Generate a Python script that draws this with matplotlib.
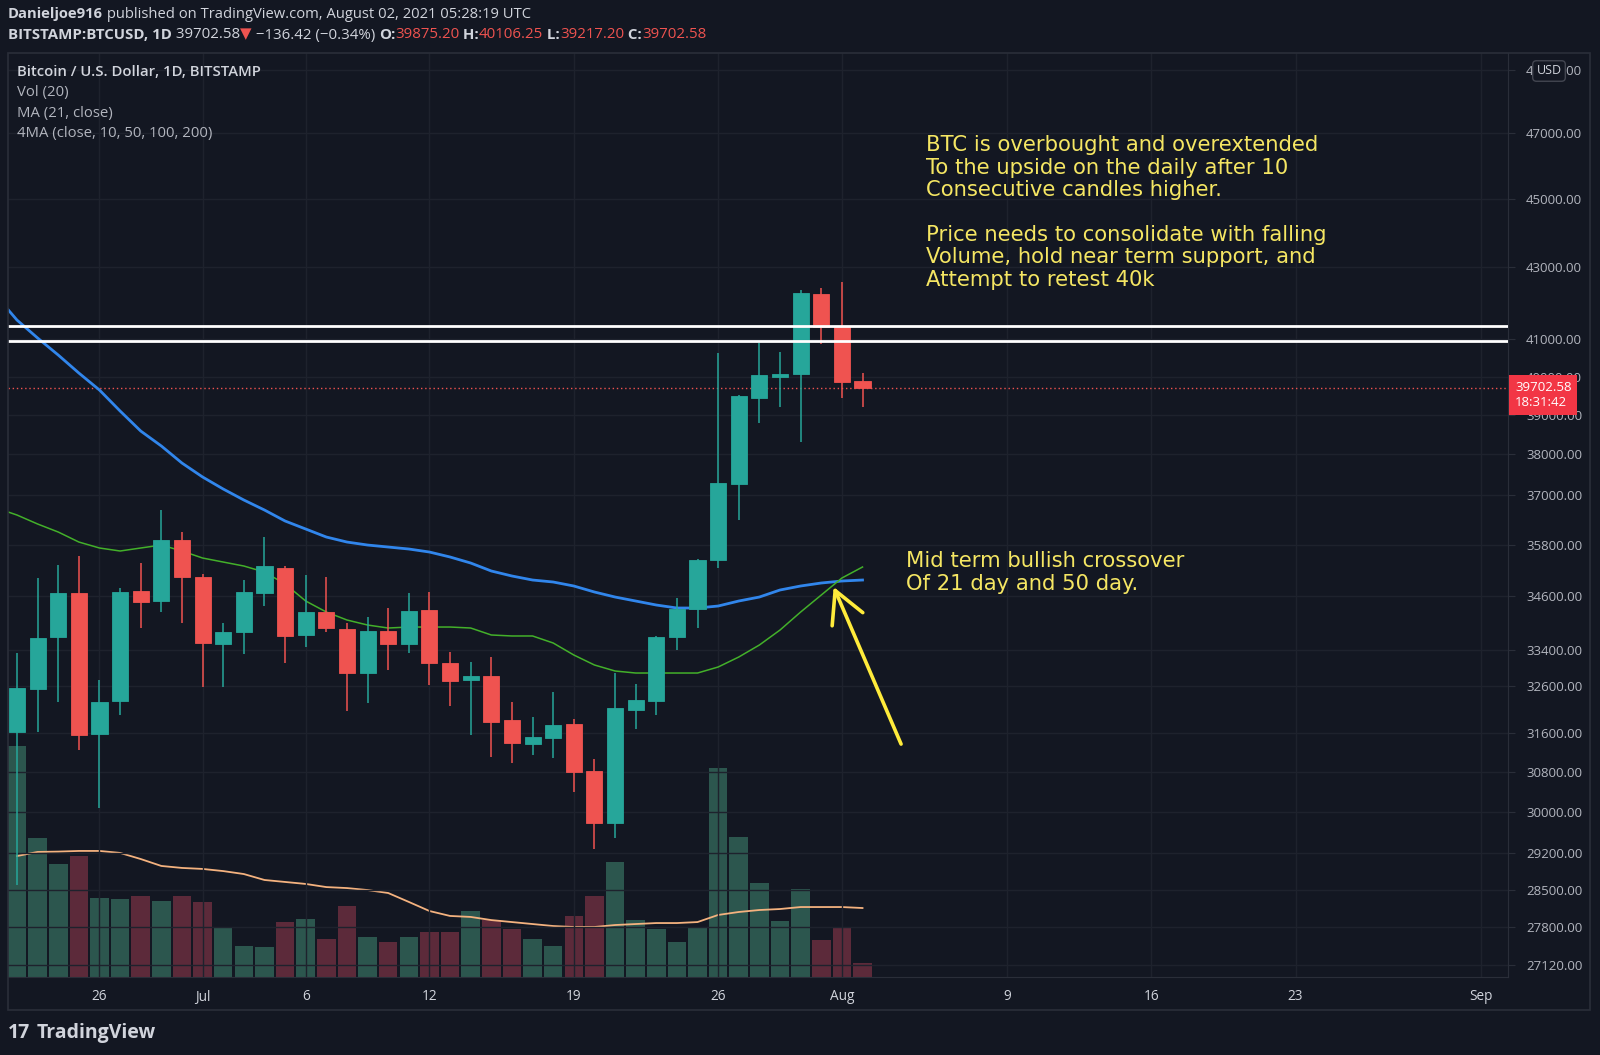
import matplotlib
matplotlib.use('Agg')
import matplotlib.pyplot as plt
import matplotlib.dates as mdates
from matplotlib.patches import Rectangle
from matplotlib.ticker import FixedLocator, FixedFormatter, FuncFormatter, NullLocator
import pandas as pd

# colours of the dark TradingView theme
BG = '#131722'
GRID = '#1e222d'
BORDER = '#2a2e39'
TXT = '#d1d4dc'
TXT2 = '#b2b5be'
UP = '#26a69a'
DN = '#ef5350'
VOL_UP = '#2c564e'
VOL_DN = '#5c2a3a'
YEL = '#f5e663'
FONT = ['Open Sans', 'DejaVu Sans']

# daily candles, BITSTAMP:BTCUSD
days = pd.date_range('2021-06-22', '2021-08-02', freq='D')
opens = [31628, 32540, 33678, 34672, 31585, 32283, 34718, 34489, 35906, 35041,
         33524, 33790, 34672, 35250, 33723, 34239, 33857, 32886, 33812, 33524,
         34285, 33104, 32734, 32821, 31880, 31378, 31503, 31794, 30823, 29782,
         32091, 32283, 33678, 34307, 35434, 37260, 39440, 39992, 40071, 42250,
         41368, 39875.20]
highs = [33324, 35018, 35320, 35529, 32734, 34790, 35367, 36624, 36100, 35100,
         33991, 34971, 35978, 35300, 35087, 35041, 34000, 34125, 34330, 34672,
         34695, 33346, 33126, 33235, 32261, 31943, 32475, 31900, 31065, 32886,
         32648, 33700, 34557, 35460, 40631, 39518, 40902, 40658, 42360, 42415,
         42577, 40106.25]
lows = [28587, 31628, 32261, 31254, 30079, 31985, 33879, 34239, 33991, 32583,
        32583, 33302, 34375, 33104, 33456, 33790, 32070, 32240, 32950, 33324,
        32626, 32176, 31565, 31110, 30986, 31150, 31089, 30400, 29275, 29488,
        31690, 31985, 33390, 33879, 35250, 36383, 38805, 39206, 38310, 40880,
        39440, 39217.20]
closes = [32561, 33656, 34672, 31565, 32261, 34695, 34466, 35906, 35041, 33545,
          33790, 34695, 35297, 33700, 34239, 33879, 32886, 33812, 33524, 34262,
          33104, 32712, 32821, 31837, 31399, 31524, 31773, 30803, 29782, 32133,
          32304, 33678, 34307, 35434, 37284, 39492, 40045, 40071, 42275, 41340,
          39870, 39702.58]
# volume, thousand BTC
volume = [14.0, 8.42, 6.85, 7.33, 4.79, 4.73, 4.91, 4.61, 4.91, 4.55,
          3.03, 1.88, 1.82, 3.33, 3.52, 2.30, 4.30, 2.42, 2.12, 2.42,
          2.73, 2.73, 4.00, 3.45, 2.91, 2.30, 1.88, 3.70, 4.91, 6.97,
          3.45, 2.91, 2.12, 3.03, 12.67, 8.48, 5.70, 3.39, 5.33, 2.24,
          3.03, 0.85]
vol_ma20 = [7.33, 7.58, 7.60, 7.64, 7.64, 7.52, 7.15, 6.73, 6.61, 6.55,
            6.42, 6.24, 5.88, 5.76, 5.64, 5.45, 5.39, 5.27, 5.09, 4.55,
            4.00, 3.70, 3.64, 3.45, 3.33, 3.21, 3.09, 3.03, 3.03, 3.15,
            3.21, 3.27, 3.27, 3.33, 3.76, 3.94, 4.06, 4.12, 4.24, 4.24,
            4.24, 4.18]

# moving averages, starting one day before the first visible candle
ma_days = pd.date_range('2021-06-21', '2021-08-02', freq='D')
ma21 = [36675, 36505, 36289, 36097, 35859, 35718, 35647, 35718, 35788, 35647,
        35482, 35388, 35295, 35155, 34878, 34488, 34238, 34058, 33945, 33878,
        33900, 33900, 33900, 33878, 33722, 33700, 33700, 33544, 33279, 33060,
        32929, 32885, 32885, 32885, 32885, 33016, 33235, 33500, 33833, 34238,
        34625, 35016, 35272]
ma50 = [42191, 41526, 41036, 40577, 40097, 39649, 39103, 38589, 38209, 37781,
        37434, 37138, 36869, 36626, 36361, 36169, 35978, 35859, 35788, 35741,
        35694, 35623, 35506, 35365, 35179, 35063, 34970, 34924, 34832, 34694,
        34579, 34488, 34397, 34329, 34329, 34374, 34488, 34579, 34740, 34832,
        34901, 34947, 34970]

levels = [41360, 40950]
price_ticks = [27120, 27800, 28500, 29200, 30000, 30800, 31600, 32600, 33400,
               34600, 35800, 37000, 38000, 39000, 40000, 41000, 43000, 45000,
               47000, 49000]
date_ticks = ['2021-06-26', '2021-07-01', '2021-07-06', '2021-07-12', '2021-07-19',
              '2021-07-26', '2021-08-01', '2021-08-09', '2021-08-16', '2021-08-23',
              '2021-09-01']
date_labels = ['26', 'Jul', '6', '12', '19', '26', 'Aug', '9', '16', '23', 'Sep']

note_top = ('BTC is overbought and overextended\n'
            'To the upside on the daily after 10\n'
            'Consecutive candles higher.\n\n'
            'Price needs to consolidate with falling\n'
            'Volume, hold near term support, and\n'
            'Attempt to retest 40k')
note_mid = 'Mid term bullish crossover\nOf 21 day and 50 day.'

W, H = 1600, 1055
fig = plt.figure(figsize=(16, 10.55), dpi=100, facecolor=BG)
plt.rcParams['font.family'] = FONT


def fx(px):
    return px / W


def fy(py):
    return 1 - py / H


rect = [fx(8), fy(977), fx(1508 - 8), (977 - 53) / H]
ax_v = fig.add_axes(rect)
ax = fig.add_axes(rect, sharex=ax_v)
ax_v.set_facecolor(BG)
ax.patch.set_visible(False)

x = mdates.date2num(days)
xm = mdates.date2num(ma_days)
t0 = x[0]

# volume overlay
vcol = [VOL_UP if c >= o else VOL_DN for o, c in zip(opens, closes)]
ax_v.bar(x, volume, width=0.9, color=vcol, zorder=2)
ax_v.plot(x, vol_ma20, color='#f4b27f', lw=1.3, zorder=3)
ax_v.set_ylim(0, 924 / 16.5)
ax_v.set_yticks([])
ax_v.tick_params(axis='x', length=0, labelbottom=False)
for s in ax_v.spines.values():
    s.set_visible(False)

# candles
ccol = [UP if c >= o else DN for o, c in zip(opens, closes)]
ax.vlines(x, lows, highs, colors=ccol, lw=1.1, zorder=4)
bottoms = [min(o, c) for o, c in zip(opens, closes)]
heights = [abs(c - o) for o, c in zip(opens, closes)]
ax.bar(x, heights, bottom=bottoms, width=0.78, color=ccol, edgecolor=ccol,
       lw=0.6, zorder=5)

ax.plot(xm, ma50, color='#3186ec', lw=2.0, zorder=3)
ax.plot(xm, ma21, color='#43b02a', lw=1.1, zorder=3)

for lv in levels:
    ax.axhline(lv, color='white', lw=2.0, zorder=6)
ax.axhline(closes[-1], color=DN, lw=1.0, ls=(0, (1, 2)), zorder=2)

ax.set_yscale('log')
ax.set_ylim(26899, 49543)
ax.set_xlim(t0 - 0.436, t0 + 72.3)

ax.yaxis.tick_right()
ax.yaxis.set_major_locator(FixedLocator(price_ticks))
ax.yaxis.set_major_formatter(FuncFormatter(lambda v, p: f'{v:.2f}'))
ax.yaxis.set_minor_locator(NullLocator())
ax.tick_params(axis='y', which='major', labelsize=9.5, labelcolor=TXT2,
               color=BORDER, length=5, pad=8)
ax.xaxis.set_major_locator(FixedLocator(mdates.date2num(pd.to_datetime(date_ticks))))
ax.xaxis.set_major_formatter(FixedFormatter(date_labels))
ax.tick_params(axis='x', labelsize=9.8, labelcolor=TXT, length=0, pad=9)
ax.grid(True, color=GRID, lw=1.0, zorder=0)
for name, s in ax.spines.items():
    s.set_visible(name in ('right', 'bottom'))
    s.set_color(BORDER)

# last price marker on the scale
ax.annotate('39702.58\n18:31:42', xy=(1, closes[-1]),
            xycoords=('axes fraction', 'data'), xytext=(7, 7),
            textcoords='offset pixels', ha='left', va='top', fontsize=9.5,
            color='white', linespacing=1.2, annotation_clip=False, zorder=10,
            bbox=dict(boxstyle='square,pad=0.45', fc='#f23645', ec='none'))

# author notes
ax.text(t0 + 44.1, 44585, note_top, color=YEL, fontsize=15.2, family='DejaVu Sans',
        ha='left', va='center', linespacing=1.15, zorder=8)
ax.text(t0 + 43.1, 35143, note_mid, color=YEL, fontsize=15.2, family='DejaVu Sans',
        ha='left', va='center', linespacing=1.15, zorder=8)
ax.annotate('', xy=(t0 + 39.6, 34810), xytext=(t0 + 42.87, 31376),
            arrowprops=dict(arrowstyle='->,head_length=0.75,head_width=0.4',
                            color='#ffeb3b', lw=2.6, mutation_scale=30,
                            shrinkA=0, shrinkB=0), zorder=8)

# pane frame
fig.patches.append(Rectangle((fx(8), fy(1010)), fx(1590 - 8), (1010 - 53) / H,
                             transform=fig.transFigure, fill=False, ec=BORDER, lw=1.2))
fig.text(fx(1549), fy(71), 'USD', color=TXT, fontsize=9, ha='center', va='center',
         bbox=dict(boxstyle='round,pad=0.3', fc=BG, ec='#434651', lw=1))

# legend inside the pane
fig.text(fx(17), fy(72), 'Bitcoin / U.S. Dollar, 1D, BITSTAMP', color=TXT,
         fontsize=10.7, fontweight='semibold', va='center')
for i, s in enumerate(['Vol (20)', 'MA (21, close)', '4MA (close, 10, 50, 100, 200)']):
    fig.text(fx(17), fy(92.5 + 20.5 * i), s, color=TXT2, fontsize=10.7, va='center')

# header lines with mixed styles
renderer = fig.canvas.get_renderer()


def rich(px, py, parts, size):
    xf = fx(px)
    for s, color, weight in parts:
        t = fig.text(xf, fy(py), s, color=color, fontsize=size, fontweight=weight,
                     va='center', ha='left')
        xf = t.get_window_extent(renderer=renderer).x1 / W


rich(8, 14, [('Danieljoe916', TXT, 'bold'),
             (' published on TradingView.com, August 02, 2021 05:28:19 UTC', TXT, 'normal')], 10.6)
rich(8, 35, [('BITSTAMP:BTCUSD, 1D', TXT, 'bold'), (' 39702.58', TXT, 'normal'),
             ('\u25bc', DN, 'normal'), (' \u2212136.42 (\u22120.34%) ', TXT, 'normal'),
             ('O:', TXT, 'bold'), ('39875.20', DN, 'normal'),
             (' H:', TXT, 'bold'), ('40106.25', DN, 'normal'),
             (' L:', TXT, 'bold'), ('39217.20', DN, 'normal'),
             (' C:', TXT, 'bold'), ('39702.58', DN, 'normal')], 10.8)

# footer logo
fig.text(fx(8), fy(1033), '17', color=TXT, fontsize=14, fontweight='bold', va='center')
fig.text(fx(37), fy(1033), 'TradingView', color=TXT, fontsize=14, fontweight='bold',
         va='center')

fig.savefig('out.png', dpi=100, facecolor=BG)
